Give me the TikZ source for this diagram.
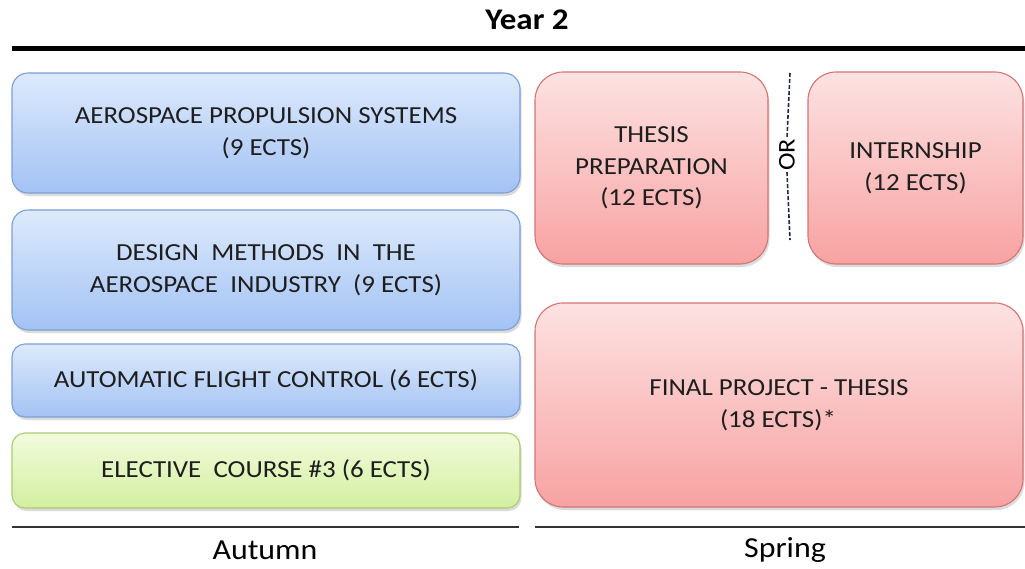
\documentclass[tikz,border=0pt]{standalone}
\usepackage{fontspec}
\setmainfont{Carlito}[FakeStretch=1.1]
\usetikzlibrary{shadows}
\definecolor{bluetop}{HTML}{DDEAFC}
\definecolor{bluebot}{HTML}{A3C2F4}
\definecolor{blueline}{HTML}{7B9FD6}
\definecolor{pinktop}{HTML}{FDE2E2}
\definecolor{pinkbot}{HTML}{F8A2A2}
\definecolor{pinkline}{HTML}{D37474}
\definecolor{greentop}{HTML}{F2FBDC}
\definecolor{greenbot}{HTML}{D3EFA0}
\definecolor{greenline}{HTML}{A9CD73}
\definecolor{txt}{HTML}{1E1E1E}
\definecolor{dashcol}{HTML}{1F2A4A}
\tikzset{
  course/.style={rectangle, rounded corners=16pt, line width=1.1pt, align=center,
    text=txt, font=\fontsize{24.5}{31.5}\selectfont,
    drop shadow={shadow xshift=1.5pt, shadow yshift=-3pt, opacity=0.28}},
  bluebox/.style={course, draw=blueline, top color=bluetop, bottom color=bluebot},
  greenbox/.style={course, draw=greenline, top color=greentop, bottom color=greenbot},
  pinkbox/.style={course, rounded corners=28pt, draw=pinkline, top color=pinktop, bottom color=pinkbot},
  rule/.style={line width=2pt, draw=black!80},
  season/.style={font=\fontsize{29}{32}\selectfont, text=black},
  orline/.style={dash pattern=on 4pt off 2pt, line width=1.6pt, draw=dashcol}
}
\begin{document}
\begin{tikzpicture}[x=1pt,y=-1pt]
\useasboundingbox (0,0) rectangle (1025,568);
\fill[white] (0,0) rectangle (1025,568);
\node[font=\bfseries\fontsize{30}{32}\selectfont] (title) at (527,20) {Year 2};
\coordinate (tl) at (12,48);
\coordinate (tr) at (1025,48);
\draw[line width=5pt] (tl) -- (tr);

\node[bluebox, minimum width=508pt, minimum height=120pt] (aps) at (266,133)
  {AEROSPACE PROPULSION SYSTEMS\\(9 ECTS)};
\node[bluebox, minimum width=508pt, minimum height=120pt] (dm) at (266,270)
  {DESIGN~ METHODS~ IN~ THE\\AEROSPACE~ INDUSTRY~ (9 ECTS)};
\node[bluebox, rounded corners=13pt, minimum width=508pt, minimum height=73pt] (afc) at (266,380.5)
  {AUTOMATIC FLIGHT CONTROL (6 ECTS)};
\node[greenbox, rounded corners=13pt, minimum width=508pt, minimum height=75pt] (el) at (266,470.5)
  {ELECTIVE~ COURSE \#3 (6 ECTS)};

\node[pinkbox, minimum width=233pt, minimum height=192pt] (tp) at (651.5,168)
  {THESIS\\PREPARATION\\(12 ECTS)};
\node[pinkbox, minimum width=215pt, minimum height=192pt] (int) at (915.5,168)
  {INTERNSHIP\\(12 ECTS)};
\node[pinkbox, minimum width=488pt, minimum height=204pt] (fp) at (779,405)
  {FINAL PROJECT - THESIS\\(18 ECTS)*\hspace*{2pt}};

\node[rotate=90, font=\fontsize{24}{26}\selectfont, text=black, inner sep=1pt] (or) at (787,155) {OR};
\coordinate (ortop) at (790,73);
\coordinate (orbot) at (790,240);
\draw[orline] (ortop) -- (or.east);
\draw[orline] (or.west) -- (orbot);

\coordinate (al) at (12,527);
\coordinate (ar) at (519,527);
\coordinate (sl) at (535,527);
\coordinate (sr) at (1025,527);
\draw[rule] (al) -- (ar);
\draw[rule] (sl) -- (sr);
\node[season] (aut) at (265,550) {Autumn};
\node[season] (spr) at (785,550) {Spring};
\end{tikzpicture}
\end{document}
